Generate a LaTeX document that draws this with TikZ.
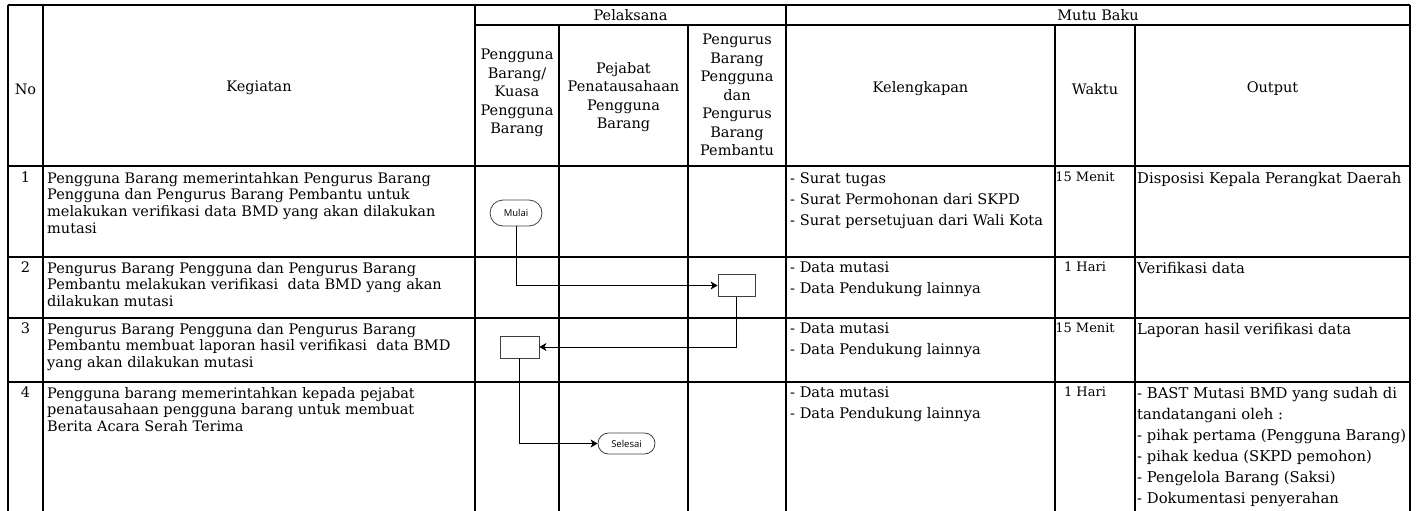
\documentclass[tikz,border=0pt]{standalone}
\usepackage{fontspec}
\setmainfont{DejaVu Serif}
\newfontfamily\flowfont{Open Sans}
\usetikzlibrary{arrows.meta,shapes.misc}
\begin{document}
\begin{tikzpicture}[x=1pt,y=-1pt,
  grid/.style={line width=1.3pt,black},
  hdr/.style={font=\fontsize{14.5}{18.5}\selectfont,align=center,inner sep=0pt},
  keg/.style={font=\fontsize{14.5}{16.7}\selectfont,align=left,anchor=north west,inner sep=0pt},
  kel/.style={font=\fontsize{14.6}{21}\selectfont,align=left,anchor=north west,inner sep=0pt},
  outp/.style={font=\fontsize{14.8}{21}\selectfont,align=left,anchor=north west,inner sep=0pt},
  wkt/.style={font=\fontsize{13}{21}\selectfont,anchor=north,inner sep=0pt},
  num/.style={font=\fontsize{14.5}{16.7}\selectfont,anchor=north,inner sep=0pt},
  term/.style={draw=black!75,line width=0.8pt,rounded rectangle,minimum width=52pt,minimum height=26pt,font=\flowfont\fontsize{9.5}{10}\selectfont,inner sep=0pt},
  proc/.style={draw=black!75,line width=0.8pt,rectangle,minimum width=38pt,minimum height=22pt,inner sep=0pt},
  flow/.style={line width=0.8pt,-{Stealth[length=7pt,width=8pt,inset=2pt]}}
]
\useasboundingbox (0,0) rectangle (1418,511);
% grid
\draw[grid] (8,5) -- (1410,5);
\draw[grid] (475,25) -- (1410,25);
\foreach \yy in {166,257,318,382} \draw[grid] (8,\yy) -- (1410,\yy);
\foreach \xx in {8,43,475,786,1410} \draw[grid] (\xx,5) -- (\xx,511);
\foreach \xx in {559,688,1055,1135} \draw[grid] (\xx,25) -- (\xx,511);
% header
\node[hdr] (hno) at (25.5,89) {No};
\node[hdr] (hkeg) at (259,88) {Kegiatan};
\node[hdr] (hpel) at (630.5,15) {Pelaksana};
\node[hdr] (hpb) at (517,93) {Pengguna\\Barang/\\Kuasa\\Pengguna\\Barang};
\node[hdr] (hpj) at (623.5,97) {Pejabat\\Penatausahaan\\Pengguna\\Barang};
\node[hdr] (hpg) at (737,95) {Pengurus\\Barang\\Pengguna\\dan\\Pengurus\\Barang\\Pembantu};
\node[hdr] (hmb) at (1098,15) {Mutu Baku};
\node[hdr] (hkel) at (920.5,89) {Kelengkapan};
\node[hdr] (hwak) at (1095,89) {Waktu};
\node[hdr] (hout) at (1272.5,89) {Output};
% row 1
\node[num] (n1) at (25.5,172) {1};
\node[keg] (k1) at (47,172) {Pengguna Barang memerintahkan Pengurus Barang\\Pengguna dan Pengurus Barang Pembantu untuk\\melakukan verifikasi data BMD yang akan dilakukan\\mutasi};
\node[kel] (l1) at (790,172) {- Surat tugas\\- Surat Permohonan dari SKPD\\- Surat persetujuan dari Wali Kota};
\node[wkt] (w1) at (1085,172) {15 Menit};
\node[outp] (o1) at (1137,172) {Disposisi Kepala Perangkat Daerah};
% row 2
\node[num] (n2) at (25.5,262) {2};
\node[keg] (k2) at (47,262) {Pengurus Barang Pengguna dan Pengurus Barang\\Pembantu melakukan verifikasi\ \ data BMD yang akan\\dilakukan mutasi};
\node[kel] (l2) at (790,262) {- Data mutasi\\- Data Pendukung lainnya};
\node[wkt] (w2) at (1085,262) {1 Hari};
\node[outp] (o2) at (1137,262) {Verifikasi data};
% row 3
\node[num] (n3) at (25.5,323) {3};
\node[keg] (k3) at (47,323) {Pengurus Barang Pengguna dan Pengurus Barang\\Pembantu membuat laporan hasil verifikasi\ \ data BMD\\yang akan dilakukan mutasi};
\node[kel] (l3) at (790,323) {- Data mutasi\\- Data Pendukung lainnya};
\node[wkt] (w3) at (1085,323) {15 Menit};
\node[outp] (o3) at (1137,323) {Laporan hasil verifikasi data};
% row 4
\node[num] (n4) at (25.5,387) {4};
\node[keg] (k4) at (47,387) {Pengguna barang memerintahkan kepada pejabat\\penatausahaan pengguna barang untuk membuat\\Berita Acara Serah Terima};
\node[kel] (l4) at (790,387) {- Data mutasi\\- Data Pendukung lainnya};
\node[wkt] (w4) at (1085,387) {1 Hari};
\node[outp] (o4) at (1137,387) {- BAST Mutasi BMD yang sudah di\\tandatangani oleh :\\- pihak pertama (Pengguna Barang)\\- pihak kedua (SKPD pemohon)\\- Pengelola Barang (Saksi)\\- Dokumentasi penyerahan};
% flow
\node[term] (mulai) at (516,213) {Mulai};
\node[proc,minimum width=37pt] (p2) at (736.5,285.5) {};
\node[proc,minimum width=39pt] (p3) at (519.5,347) {};
\node[term,minimum width=57pt,minimum height=21pt] (selesai) at (626.5,443.5) {Selesai};
\draw[flow] (mulai.south) |- (p2.west);
\draw[flow] (p2.south) |- (p3.east);
\draw[flow] (p3.south) |- (selesai.west);
\end{tikzpicture}
\end{document}
